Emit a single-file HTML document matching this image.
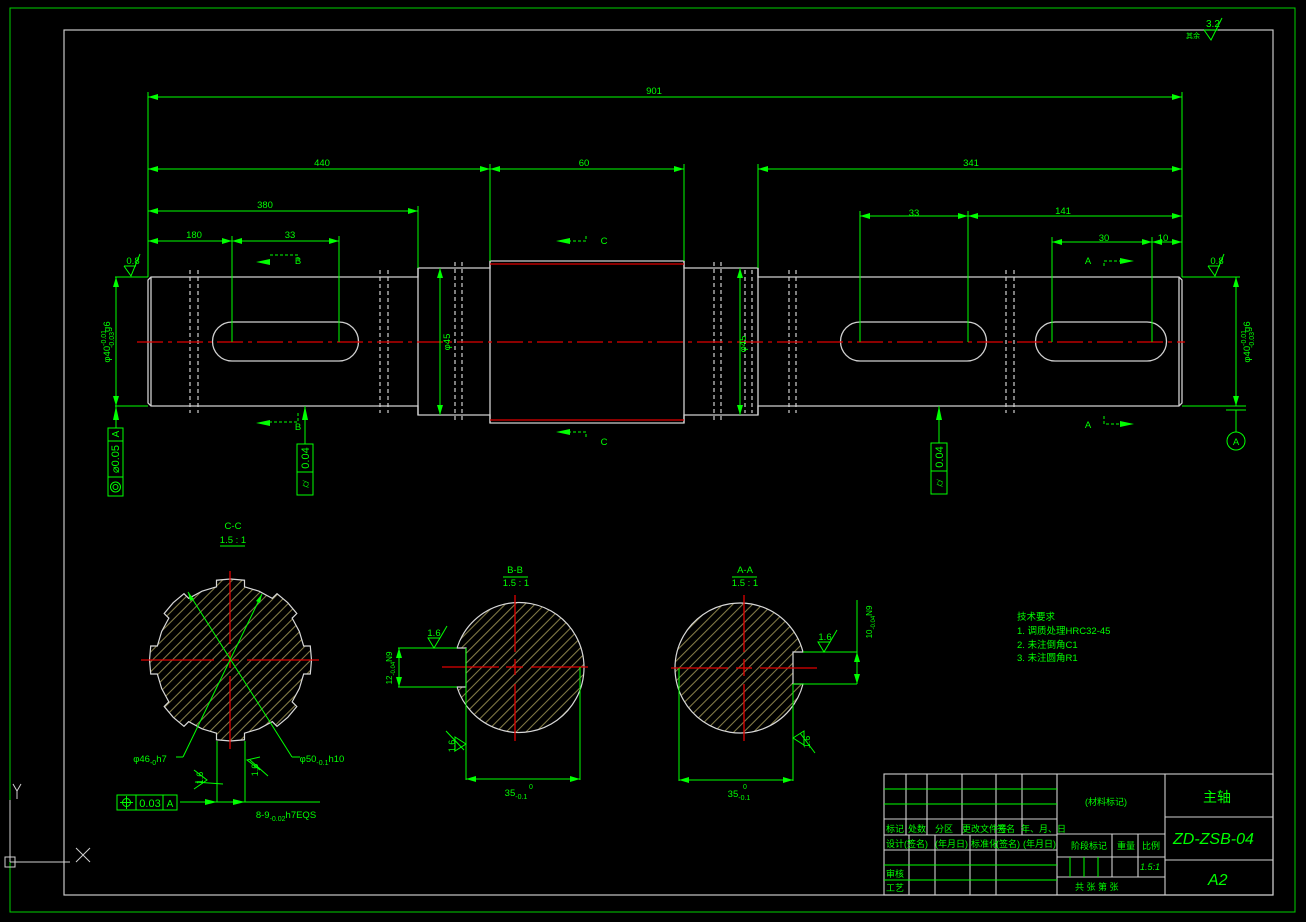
<!DOCTYPE html>
<html><head><meta charset="utf-8">
<style>
html,body{margin:0;padding:0;background:#000;width:1306px;height:922px;overflow:hidden}
svg{display:block}
text{font-family:"Liberation Sans","Noto Sans CJK SC",sans-serif;fill:#00ff00}
</style></head><body>
<svg width="1306" height="922" viewBox="0 0 1306 922" xmlns="http://www.w3.org/2000/svg">
<defs>
<pattern id="h" width="7" height="7" patternUnits="userSpaceOnUse" patternTransform="rotate(-45)">
<rect width="7" height="7" fill="#000"/>
<line x1="0" y1="0.5" x2="7" y2="0.5" stroke="#857d48" stroke-width="1.1"/>
</pattern>
<marker id="a" viewBox="0 0 10 6" refX="10" refY="3" markerWidth="10" markerHeight="6" orient="auto-start-reverse" markerUnits="userSpaceOnUse"><path d="M0,0L10,3L0,6z" fill="#00ff00"/></marker>
</defs>
<rect x="10" y="8" width="1285" height="904" fill="none" stroke="#00d000" stroke-width="1"/>
<rect x="64" y="30" width="1209" height="865" fill="none" stroke="#c8c8c8" stroke-width="1.2"/>
<g stroke="#00ff00" fill="none" stroke-width="1"><path d="M1204,30L1211,40L1222,18M1204,30H1218"/></g>
<text x="1206" y="27" font-size="10">3.2</text>
<text x="1186" y="38" font-size="7">其余</text>

<g stroke="#d0d0d0" stroke-width="1.3" fill="none">
<path d="M151,277H418V268H490V261H684V268H758V277H1179L1182,280V403L1179,406H758V415H684V423H490V415H418V406H151L148,403V280Z"/>
<line x1="151" y1="277" x2="151" y2="406"/>
<line x1="1179" y1="277" x2="1179" y2="406"/>
<line x1="418" y1="268" x2="418" y2="415"/>
<line x1="758" y1="268" x2="758" y2="415"/>
<line x1="490" y1="261" x2="490" y2="423"/>
<line x1="684" y1="261" x2="684" y2="423"/>
<path d="M232,322H339A19.5,19.5 0 0 1 339,361H232A19.5,19.5 0 0 1 232,322Z"/>
<path d="M860,322H967A19.5,19.5 0 0 1 967,361H860A19.5,19.5 0 0 1 860,322Z"/>
<path d="M1055,322H1147A19.5,19.5 0 0 1 1147,361H1055A19.5,19.5 0 0 1 1055,322Z"/>
</g>
<g stroke="#d0d0d0" stroke-width="1.2" stroke-dasharray="4,3">
<line x1="190" y1="270" x2="190" y2="413"/><line x1="198" y1="270" x2="198" y2="413"/>
<line x1="380" y1="270" x2="380" y2="413"/><line x1="388" y1="270" x2="388" y2="413"/>
<line x1="455" y1="262" x2="455" y2="422"/><line x1="462" y1="262" x2="462" y2="422"/>
<line x1="714" y1="262" x2="714" y2="422"/><line x1="721" y1="262" x2="721" y2="422"/>
<line x1="745" y1="270" x2="745" y2="413"/><line x1="752" y1="270" x2="752" y2="413"/>
<line x1="789" y1="270" x2="789" y2="413"/><line x1="796" y1="270" x2="796" y2="413"/>
<line x1="1006" y1="270" x2="1006" y2="413"/><line x1="1014" y1="270" x2="1014" y2="413"/>
</g>
<g stroke="#e00000" stroke-width="1.2">
<line x1="490" y1="264" x2="684" y2="264"/><line x1="490" y1="420" x2="684" y2="420"/>
<line x1="137" y1="342" x2="1185" y2="342" stroke-dasharray="26,5,4,5"/>
</g>

<g stroke="#00ff00" stroke-width="1" fill="none">
<line x1="148" y1="92" x2="148" y2="277"/><line x1="1182" y1="92" x2="1182" y2="277"/>
<line x1="148" y1="97" x2="1182" y2="97" marker-start="url(#a)" marker-end="url(#a)"/>
<line x1="490" y1="164" x2="490" y2="261"/><line x1="684" y1="164" x2="684" y2="261"/><line x1="758" y1="164" x2="758" y2="268"/>
<line x1="148" y1="169" x2="490" y2="169" marker-start="url(#a)" marker-end="url(#a)"/>
<line x1="490" y1="169" x2="684" y2="169" marker-start="url(#a)" marker-end="url(#a)"/>
<line x1="758" y1="169" x2="1182" y2="169" marker-start="url(#a)" marker-end="url(#a)"/>
<line x1="418" y1="206" x2="418" y2="268"/>
<line x1="148" y1="211" x2="418" y2="211" marker-start="url(#a)" marker-end="url(#a)"/>
<line x1="232" y1="236" x2="232" y2="342"/><line x1="339" y1="236" x2="339" y2="342"/>
<line x1="148" y1="241" x2="232" y2="241" marker-start="url(#a)" marker-end="url(#a)"/>
<line x1="232" y1="241" x2="339" y2="241" marker-start="url(#a)" marker-end="url(#a)"/>
<line x1="860" y1="211" x2="860" y2="342"/><line x1="968" y1="211" x2="968" y2="342"/>
<line x1="860" y1="216" x2="968" y2="216" marker-start="url(#a)" marker-end="url(#a)"/>
<line x1="968" y1="216" x2="1182" y2="216" marker-start="url(#a)" marker-end="url(#a)"/>
<line x1="1052" y1="237" x2="1052" y2="342"/><line x1="1152" y1="237" x2="1152" y2="342"/>
<line x1="1052" y1="242" x2="1152" y2="242" marker-start="url(#a)" marker-end="url(#a)"/>
<line x1="1152" y1="242" x2="1182" y2="242" marker-start="url(#a)" marker-end="url(#a)"/>
<line x1="115" y1="277" x2="148" y2="277"/><line x1="115" y1="406" x2="148" y2="406"/>
<line x1="116" y1="277" x2="116" y2="406" marker-start="url(#a)" marker-end="url(#a)"/>
<line x1="1182" y1="277" x2="1240" y2="277"/><line x1="1182" y1="406" x2="1246" y2="406"/>
<line x1="1236" y1="277" x2="1236" y2="406" marker-start="url(#a)" marker-end="url(#a)"/>
<line x1="440" y1="268" x2="440" y2="415" marker-start="url(#a)" marker-end="url(#a)"/>
<line x1="740" y1="268" x2="740" y2="415" marker-start="url(#a)" marker-end="url(#a)"/>
<path d="M124,266L131,276L140,254M124,266H136"/>
<path d="M1208,266L1215,276L1224,254M1208,266H1220"/>
<line x1="1226" y1="410" x2="1246" y2="410"/><line x1="1236" y1="410" x2="1236" y2="432"/>
<circle cx="1236" cy="441" r="9"/>
<path d="M298,260V255H270" stroke-dasharray="3,2"/><path d="M298,413V422H270" stroke-dasharray="3,2"/>
<path d="M586,236V241H570" stroke-dasharray="3,2"/><path d="M586,437V432H570" stroke-dasharray="3,2"/>
<path d="M1104,266V261H1120" stroke-dasharray="3,2"/><path d="M1104,416V424H1120" stroke-dasharray="3,2"/>
<line x1="116" y1="406" x2="116" y2="428"/>
<rect x="108" y="428" width="15" height="68"/><line x1="108" y1="441" x2="123" y2="441"/><line x1="108" y1="477" x2="123" y2="477"/>
<circle cx="115.5" cy="487" r="5"/><circle cx="115.5" cy="487" r="2.5"/>
<line x1="305" y1="406" x2="305" y2="444"/>
<rect x="297" y="444" width="16" height="51"/><line x1="297" y1="472" x2="313" y2="472"/>
<line x1="939" y1="406" x2="939" y2="443"/>
<rect x="931" y="443" width="16" height="51"/><line x1="931" y1="471" x2="947" y2="471"/>
</g>
<g fill="#00ff00">
<path d="M270,259l-14,3l14,3z"/><path d="M270,420l-14,3l14,3z"/>
<path d="M570,238l-14,3l14,3z"/><path d="M570,429l-14,3l14,3z"/>
<path d="M1120,258l14,3l-14,3z"/><path d="M1120,421l14,3l-14,3z"/>
<path d="M116,406l-3,14h6z"/><path d="M305,406l-3,14h6z"/><path d="M939,406l-3,14h6z"/>
</g>
<g font-size="9.5" text-anchor="middle">
<text x="654" y="94">901</text><text x="322" y="166">440</text><text x="584" y="166">60</text><text x="971" y="166">341</text>
<text x="265" y="208">380</text><text x="194" y="238">180</text><text x="290" y="238">33</text>
<text x="914" y="216">33</text><text x="1063" y="214">141</text><text x="1104" y="241">30</text><text x="1163" y="241">10</text>
<text x="133" y="264">0.8</text><text x="1217" y="264">0.8</text>
<text x="298" y="264">B</text><text x="298" y="430">B</text>
<text x="604" y="244">C</text><text x="604" y="445">C</text>
<text x="1088" y="264">A</text><text x="1088" y="428">A</text>
<text x="1236" y="445">A</text>
<text transform="translate(110,342) rotate(-90)">φ40<tspan font-size="7" dy="-4">-0.01</tspan><tspan font-size="7" dx="-18" dy="8">-0.03</tspan><tspan dy="-4">g6</tspan></text>
<text transform="translate(1250,342) rotate(-90)">φ40<tspan font-size="7" dy="-4">-0.01</tspan><tspan font-size="7" dx="-18" dy="8">-0.03</tspan><tspan dy="-4">g6</tspan></text>
<text transform="translate(450,342) rotate(-90)">φ45</text>
<text transform="translate(746,344) rotate(-90)">φ45</text>
<text transform="translate(119,459) rotate(-90)" font-size="11">⌀0.05</text>
<text transform="translate(119,434) rotate(-90)" font-size="10">A</text>
<text transform="translate(309,458) rotate(-90)" font-size="11">0.04</text>
<text transform="translate(309,484) rotate(-90)" font-size="11">⌭</text>
<text transform="translate(943,457) rotate(-90)" font-size="11">0.04</text>
<text transform="translate(943,483) rotate(-90)" font-size="11">⌭</text>
</g>

<!-- section C-C -->
<path fill="url(#h)" stroke="#d8d8d8" stroke-width="1.2" d="M303.67,674L310.28,674L311.5,660L310.28,646L303.67,646L299.33,631.49L292.14,618.16L296.81,613.49L287.78,602.72L277.01,593.69L272.34,598.36L259.01,591.17L244.5,586.83L244.5,580.22L230.5,579L216.5,580.22L216.5,586.83L202,591.17L188.66,598.36L183.99,593.69L173.22,602.72L164.19,613.49L168.86,618.16L161.67,631.49L157.33,646L150.72,646L149.5,660L150.72,674L157.33,674L161.67,688.51L168.86,701.84L164.19,706.51L173.22,717.28L183.99,726.31L188.66,721.64L202,728.83L216.5,733.17L216.5,739.78L230.5,741L244.5,739.78L244.5,733.17L259,728.83L272.34,721.64L277.01,726.31L287.78,717.28L296.81,706.51L292.14,701.84L299.33,688.51Z"/>
<g stroke="#e00000" stroke-width="1.3">
<line x1="141" y1="660" x2="214" y2="660"/><line x1="222" y1="660" x2="239" y2="660"/><line x1="247" y1="660" x2="319" y2="660"/>
<line x1="230" y1="571" x2="230" y2="644"/><line x1="230" y1="652" x2="230" y2="668"/><line x1="230" y1="676" x2="230" y2="749"/>
</g>
<g stroke="#00ff00" stroke-width="1" fill="none">
<line x1="188" y1="592" x2="292" y2="757"/><line x1="292" y1="757" x2="300" y2="757"/>
<line x1="262" y1="594" x2="183" y2="757"/><line x1="183" y1="757" x2="176" y2="757"/>
<line x1="217" y1="741" x2="217" y2="802"/><line x1="245" y1="741" x2="245" y2="802"/>
<line x1="180" y1="802" x2="320" y2="802"/>
<path d="M194,770L207,780L194,789M195,782L223,784" />
<path d="M260,757L247,760L260,770M250,760L268,776"/>
<rect x="117" y="795" width="60" height="15"/><line x1="136" y1="795" x2="136" y2="810"/><line x1="163" y1="795" x2="163" y2="810"/>
<circle cx="126.5" cy="802.5" r="4"/><line x1="120" y1="802.5" x2="133" y2="802.5"/><line x1="126.5" y1="796" x2="126.5" y2="809"/>
<line x1="220" y1="546" x2="245" y2="546"/>
</g>
<g fill="#00ff00"><path d="M188,592l2,9l4,-2z"/><path d="M262,594l-6,7l4,2z"/><path d="M217,802l-12,-3v6z"/><path d="M245,802l-12,-3v6z"/></g>
<g font-size="9.5" text-anchor="middle">
<text x="233" y="529">C-C</text><text x="233" y="543">1.5 : 1</text>
<text x="150" y="762">φ46<tspan font-size="7" dy="3">-0</tspan><tspan dy="-3">h7</tspan></text>
<text x="322" y="762">φ50<tspan font-size="7" dy="3">-0.1</tspan><tspan dy="-3">h10</tspan></text>
<text x="150" y="807" font-size="11">0.03</text><text x="170" y="807" font-size="10">A</text>
<text x="286" y="818">8-9<tspan font-size="7" dy="3">-0.02</tspan><tspan dy="-3">h7EQS</tspan></text>
<text transform="translate(203,778) rotate(-90)" font-size="9">1.6</text>
<text transform="translate(258,770) rotate(-90)" font-size="9">1.6</text>
</g>

<!-- section B-B -->
<path d="M466,648H457A65,65 0 1 1 457,687H466Z" fill="url(#h)" stroke="#d8d8d8" stroke-width="1.2"/>
<g stroke="#e00000" stroke-width="1.3">
<line x1="442" y1="667" x2="499" y2="667"/><line x1="506" y1="667" x2="523" y2="667"/><line x1="531" y1="667" x2="588" y2="667"/>
<line x1="515" y1="595" x2="515" y2="652"/><line x1="515" y1="659" x2="515" y2="675"/><line x1="515" y1="684" x2="515" y2="741"/>
</g>
<g stroke="#00ff00" stroke-width="1" fill="none">
<line x1="398" y1="648" x2="457" y2="648"/><line x1="398" y1="687" x2="457" y2="687"/><line x1="466" y1="648" x2="466" y2="687"/>
<line x1="399" y1="648" x2="399" y2="687" marker-start="url(#a)" marker-end="url(#a)"/>
<line x1="466" y1="687" x2="466" y2="780"/><line x1="580" y1="667" x2="580" y2="780"/>
<line x1="466" y1="779" x2="580" y2="779" marker-start="url(#a)" marker-end="url(#a)"/>
<path d="M428,638L434,648L440,638ZM428,638H440M440,638L447,626"/>
<path d="M466,744L455,737V751ZM446,731L464,750"/>
<line x1="503" y1="577" x2="528" y2="577"/>
</g>
<g font-size="9.5" text-anchor="middle">
<text x="515" y="573">B-B</text><text x="516" y="586">1.5 : 1</text>
<text x="434" y="636">1.6</text>
<text x="516" y="796">35<tspan font-size="7" dy="3">-0.1</tspan></text><text x="531" y="789" font-size="7">0</text>
<text transform="translate(392,668) rotate(-90)" font-size="8">12<tspan font-size="6" dy="3">-0.04</tspan><tspan dy="-3">N9</tspan></text>
<text transform="translate(455,746) rotate(-90)" font-size="9">1.6</text>
</g>

<!-- section A-A -->
<path d="M793,652H803A65,65 0 1 0 803,684H793Z" fill="url(#h)" stroke="#d8d8d8" stroke-width="1.2"/>
<g stroke="#e00000" stroke-width="1.3">
<line x1="671" y1="668" x2="728" y2="668"/><line x1="736" y1="668" x2="752" y2="668"/><line x1="760" y1="668" x2="817" y2="668"/>
<line x1="744" y1="595" x2="744" y2="652"/><line x1="744" y1="659" x2="744" y2="676"/><line x1="744" y1="684" x2="744" y2="741"/>
</g>
<g stroke="#00ff00" stroke-width="1" fill="none">
<line x1="803" y1="652" x2="857" y2="652"/><line x1="793" y1="684" x2="857" y2="684"/><line x1="857" y1="600" x2="857" y2="684"/>
<line x1="857" y1="652" x2="857" y2="684" marker-start="url(#a)" marker-end="url(#a)"/>
<line x1="679" y1="668" x2="679" y2="781"/><line x1="793" y1="684" x2="793" y2="781"/>
<line x1="679" y1="780" x2="793" y2="780" marker-start="url(#a)" marker-end="url(#a)"/>
<path d="M818,642L824,652L830,642ZM818,642H830M830,642L837,630"/>
<path d="M793,738L804,731V745ZM800,733L815,753"/>
<line x1="732" y1="577" x2="757" y2="577"/>
</g>
<g font-size="9.5" text-anchor="middle">
<text x="745" y="573">A-A</text><text x="745" y="586">1.5 : 1</text>
<text x="825" y="640">1.6</text>
<text x="739" y="797">35<tspan font-size="7" dy="3">-0.1</tspan></text><text x="745" y="789" font-size="7">0</text>
<text transform="translate(872,622) rotate(-90)" font-size="8">10<tspan font-size="6" dy="3">-0.04</tspan><tspan dy="-3">N9</tspan></text>
<text transform="translate(810,742) rotate(-90)" font-size="9">1.6</text>
</g>

<g font-size="9.5">
<text x="1017" y="620">技术要求</text>
<text x="1017" y="634">1. 调质处理HRC32-45</text>
<text x="1017" y="648">2. 未注倒角C1</text>
<text x="1017" y="661">3. 未注圆角R1</text>
</g>

<g stroke="#d0d0d0" stroke-width="1.1" fill="none">
<rect x="884" y="774" width="389" height="121"/>
<line x1="1057" y1="774" x2="1057" y2="895"/><line x1="1165" y1="774" x2="1165" y2="895"/>
<line x1="884" y1="819" x2="1057" y2="819"/><line x1="884" y1="835" x2="1057" y2="835"/><line x1="884" y1="850" x2="1057" y2="850"/>
<line x1="1057" y1="834" x2="1165" y2="834"/><line x1="1057" y1="857" x2="1165" y2="857"/><line x1="1057" y1="877" x2="1165" y2="877"/>
<line x1="1165" y1="817" x2="1273" y2="817"/><line x1="1165" y1="860" x2="1273" y2="860"/>
<line x1="906" y1="774" x2="906" y2="835"/><line x1="927" y1="774" x2="927" y2="835"/><line x1="962" y1="774" x2="962" y2="835"/><line x1="996" y1="774" x2="996" y2="835"/><line x1="1022" y1="774" x2="1022" y2="835"/>
<line x1="909" y1="835" x2="909" y2="895"/><line x1="935" y1="835" x2="935" y2="895"/><line x1="970" y1="835" x2="970" y2="895"/><line x1="996" y1="835" x2="996" y2="895"/>
<line x1="1112" y1="834" x2="1112" y2="877"/><line x1="1138" y1="834" x2="1138" y2="877"/>
</g>
<g stroke="#00ff00" stroke-width="1">
<line x1="884" y1="789" x2="1057" y2="789"/><line x1="884" y1="804" x2="1057" y2="804"/>
<line x1="884" y1="865" x2="1057" y2="865"/><line x1="884" y1="880" x2="1057" y2="880"/>
<line x1="1070" y1="857" x2="1070" y2="877"/><line x1="1084" y1="857" x2="1084" y2="877"/><line x1="1098" y1="857" x2="1098" y2="877"/>
</g>
<g font-size="9">
<text x="1085" y="805">(材料标记)</text>
<text x="886" y="832">标记</text><text x="908" y="832">处数</text><text x="935" y="832">分区</text><text x="962" y="832">更改文件号</text><text x="997" y="832">签名</text><text x="1021" y="832">年、月、日</text>
<text x="886" y="847">设计</text><text x="904" y="847">(签名)</text><text x="935" y="847">(年月日)</text><text x="971" y="847">标准化</text><text x="996" y="847">(签名)</text><text x="1023" y="847">(年月日)</text>
<text x="886" y="877">审核</text><text x="886" y="891">工艺</text>
<text x="1071" y="849">阶段标记</text><text x="1117" y="849">重量</text><text x="1142" y="849">比例</text>
<text x="1140" y="870" font-style="italic">1.5:1</text>
<text x="1075" y="890">共  张 第  张</text>
<text x="1203" y="802" font-size="14">主轴</text>
<text x="1173" y="844" font-size="16" font-style="italic">ZD-ZSB-04</text>
<text x="1208" y="885" font-size="16" font-style="italic">A2</text>
</g>

<g stroke="#d0d0d0" stroke-width="1" fill="none">
<line x1="10" y1="862" x2="10" y2="800"/><line x1="10" y1="862" x2="70" y2="862"/>
<rect x="5" y="857" width="10" height="10"/>
<path d="M13,784L17,791L21,784M17,791V799"/>
<path d="M76,848L90,862M90,848L76,862"/>
</g>
</svg>
</body></html>
